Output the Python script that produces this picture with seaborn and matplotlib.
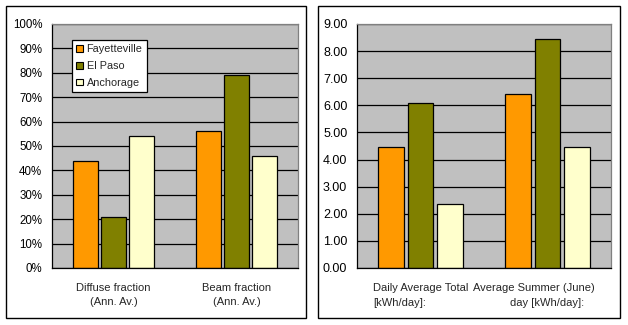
import matplotlib
matplotlib.use("Agg")
import matplotlib.pyplot as plt
import matplotlib.transforms as mtransforms
from matplotlib.patches import Rectangle
from matplotlib.ticker import FuncFormatter
import seaborn as sns
import pandas as pd

cities = ["Fayetteville", "El Paso", "Anchorage"]
colors = ["#FF9900", "#808000", "#FFFFCC"]

frac_categories = ["Diffuse fraction\n(Ann. Av.)", "Beam fraction\n(Ann. Av.)"]
frac_fayetteville = [0.44, 0.56]
frac_elpaso = [0.21, 0.79]
frac_anchorage = [0.54, 0.46]

energy_categories = ["Daily Average Total [kWh/day]:", "Average Summer (June) day [kWh/day]:"]
energy_fayetteville = [4.45, 6.40]
energy_elpaso = [6.10, 8.45]
energy_anchorage = [2.37, 4.45]

sns.set_theme(style="white")
plt.rcParams["font.family"] = ["Liberation Sans", "DejaVu Sans"]

def make_df(cats, a, b, c):
    rows = []
    for city, vals in zip(cities, [a, b, c]):
        for cat, v in zip(cats, vals):
            rows.append({"cat": cat, "city": city, "val": v})
    return pd.DataFrame(rows)

W, H = 628, 325
fig = plt.figure(figsize=(W / 100, H / 100), dpi=100)
fig.patch.set_facecolor("white")

# outer panel boxes
for (x0, y0, x1, y1) in [(6, 6, 306, 318), (318, 6, 620, 318)]:
    fig.add_artist(Rectangle((x0 / W, 1 - y1 / H), (x1 - x0) / W, (y1 - y0) / H,
                             transform=fig.transFigure, fill=False,
                             edgecolor="black", linewidth=1))

def style_axes(ax, ymax, step, fmt, fs):
    ax.set_facecolor("#C0C0C0")
    ax.set_ylim(0, ymax)
    ax.set_xlim(-0.5, 1.5)
    ax.set_yticks([i * step for i in range(int(round(ymax / step)) + 1)])
    ax.yaxis.set_major_formatter(FuncFormatter(fmt))
    ax.yaxis.grid(True, color="black", linewidth=0.9)
    ax.set_axisbelow(True)
    ax.set_xticks([-0.5, 0.5, 1.5])
    ax.set_xticklabels(["", "", ""])
    ax.tick_params(axis="both", direction="out", length=4, width=0.9,
                   colors="black", labelsize=fs, pad=3)
    ax.tick_params(axis="x", length=5)
    for s in ["top", "right"]:
        ax.spines[s].set_color("#808080")
        ax.spines[s].set_linewidth(0.9)
    for s in ["left", "bottom"]:
        ax.spines[s].set_color("black")
        ax.spines[s].set_linewidth(0.9)
    ax.set_xlabel("")
    ax.set_ylabel("")

# Left panel
ax1 = fig.add_axes([52 / W, 1 - 268 / H, 246 / W, 244 / H])
df1 = make_df(frac_categories, frac_fayetteville, frac_elpaso, frac_anchorage)
sns.barplot(data=df1, x="cat", y="val", hue="city", hue_order=cities,
            order=frac_categories, palette=colors, saturation=1, width=0.68, gap=0.12,
            edgecolor="black", linewidth=0.9, ax=ax1, legend=True)
style_axes(ax1, 1.0, 0.1, lambda v, p: f"{v*100:.0f}%", 8.3)
trans1 = mtransforms.blended_transform_factory(ax1.transData, ax1.transAxes)
for i, lab in enumerate(frac_categories):
    ax1.text(i, -0.062, lab, transform=trans1, ha="center", va="top",
             fontsize=8, linespacing=1.5)
leg = ax1.legend(loc="upper left", bbox_to_anchor=(0.081, 0.934),
                 borderaxespad=0, frameon=True, fancybox=False,
                 edgecolor="black", facecolor="white", framealpha=1,
                 fontsize=7.8, handlelength=0.6, handleheight=0.6,
                 handletextpad=0.35, labelspacing=0.62, borderpad=0.4)
leg.get_frame().set_linewidth(0.9)
for h in leg.legend_handles:
    h.set_edgecolor("black")
    h.set_linewidth(0.8)

# Right panel
ax2 = fig.add_axes([357 / W, 1 - 268 / H, 254 / W, 244 / H])
df2 = make_df(energy_categories, energy_fayetteville, energy_elpaso, energy_anchorage)
sns.barplot(data=df2, x="cat", y="val", hue="city", hue_order=cities,
            order=energy_categories, palette=colors, saturation=1, width=0.69, gap=0.12,
            edgecolor="black", linewidth=0.9, ax=ax2, legend=False)
style_axes(ax2, 9.0, 1.0, lambda v, p: f"{v:.2f}", 9)
trans2 = mtransforms.blended_transform_factory(ax2.transData, ax2.transAxes)
FSR = 8.0
ax2.text(-0.374, -0.062, "Daily Average Total", transform=trans2, ha="left",
         va="top", fontsize=FSR)
ax2.text(-0.374, -0.124, "[kWh/day]:", transform=trans2, ha="left",
         va="top", fontsize=FSR)
ax2.text(1.374, -0.062, "Average Summer (June)", transform=trans2, ha="right",
         va="top", fontsize=FSR)
ax2.text(1.0, -0.124, "day [kWh/day]:", transform=trans2, ha="center",
         va="top", fontsize=FSR)

fig.savefig("out.png", dpi=100, facecolor="white")
